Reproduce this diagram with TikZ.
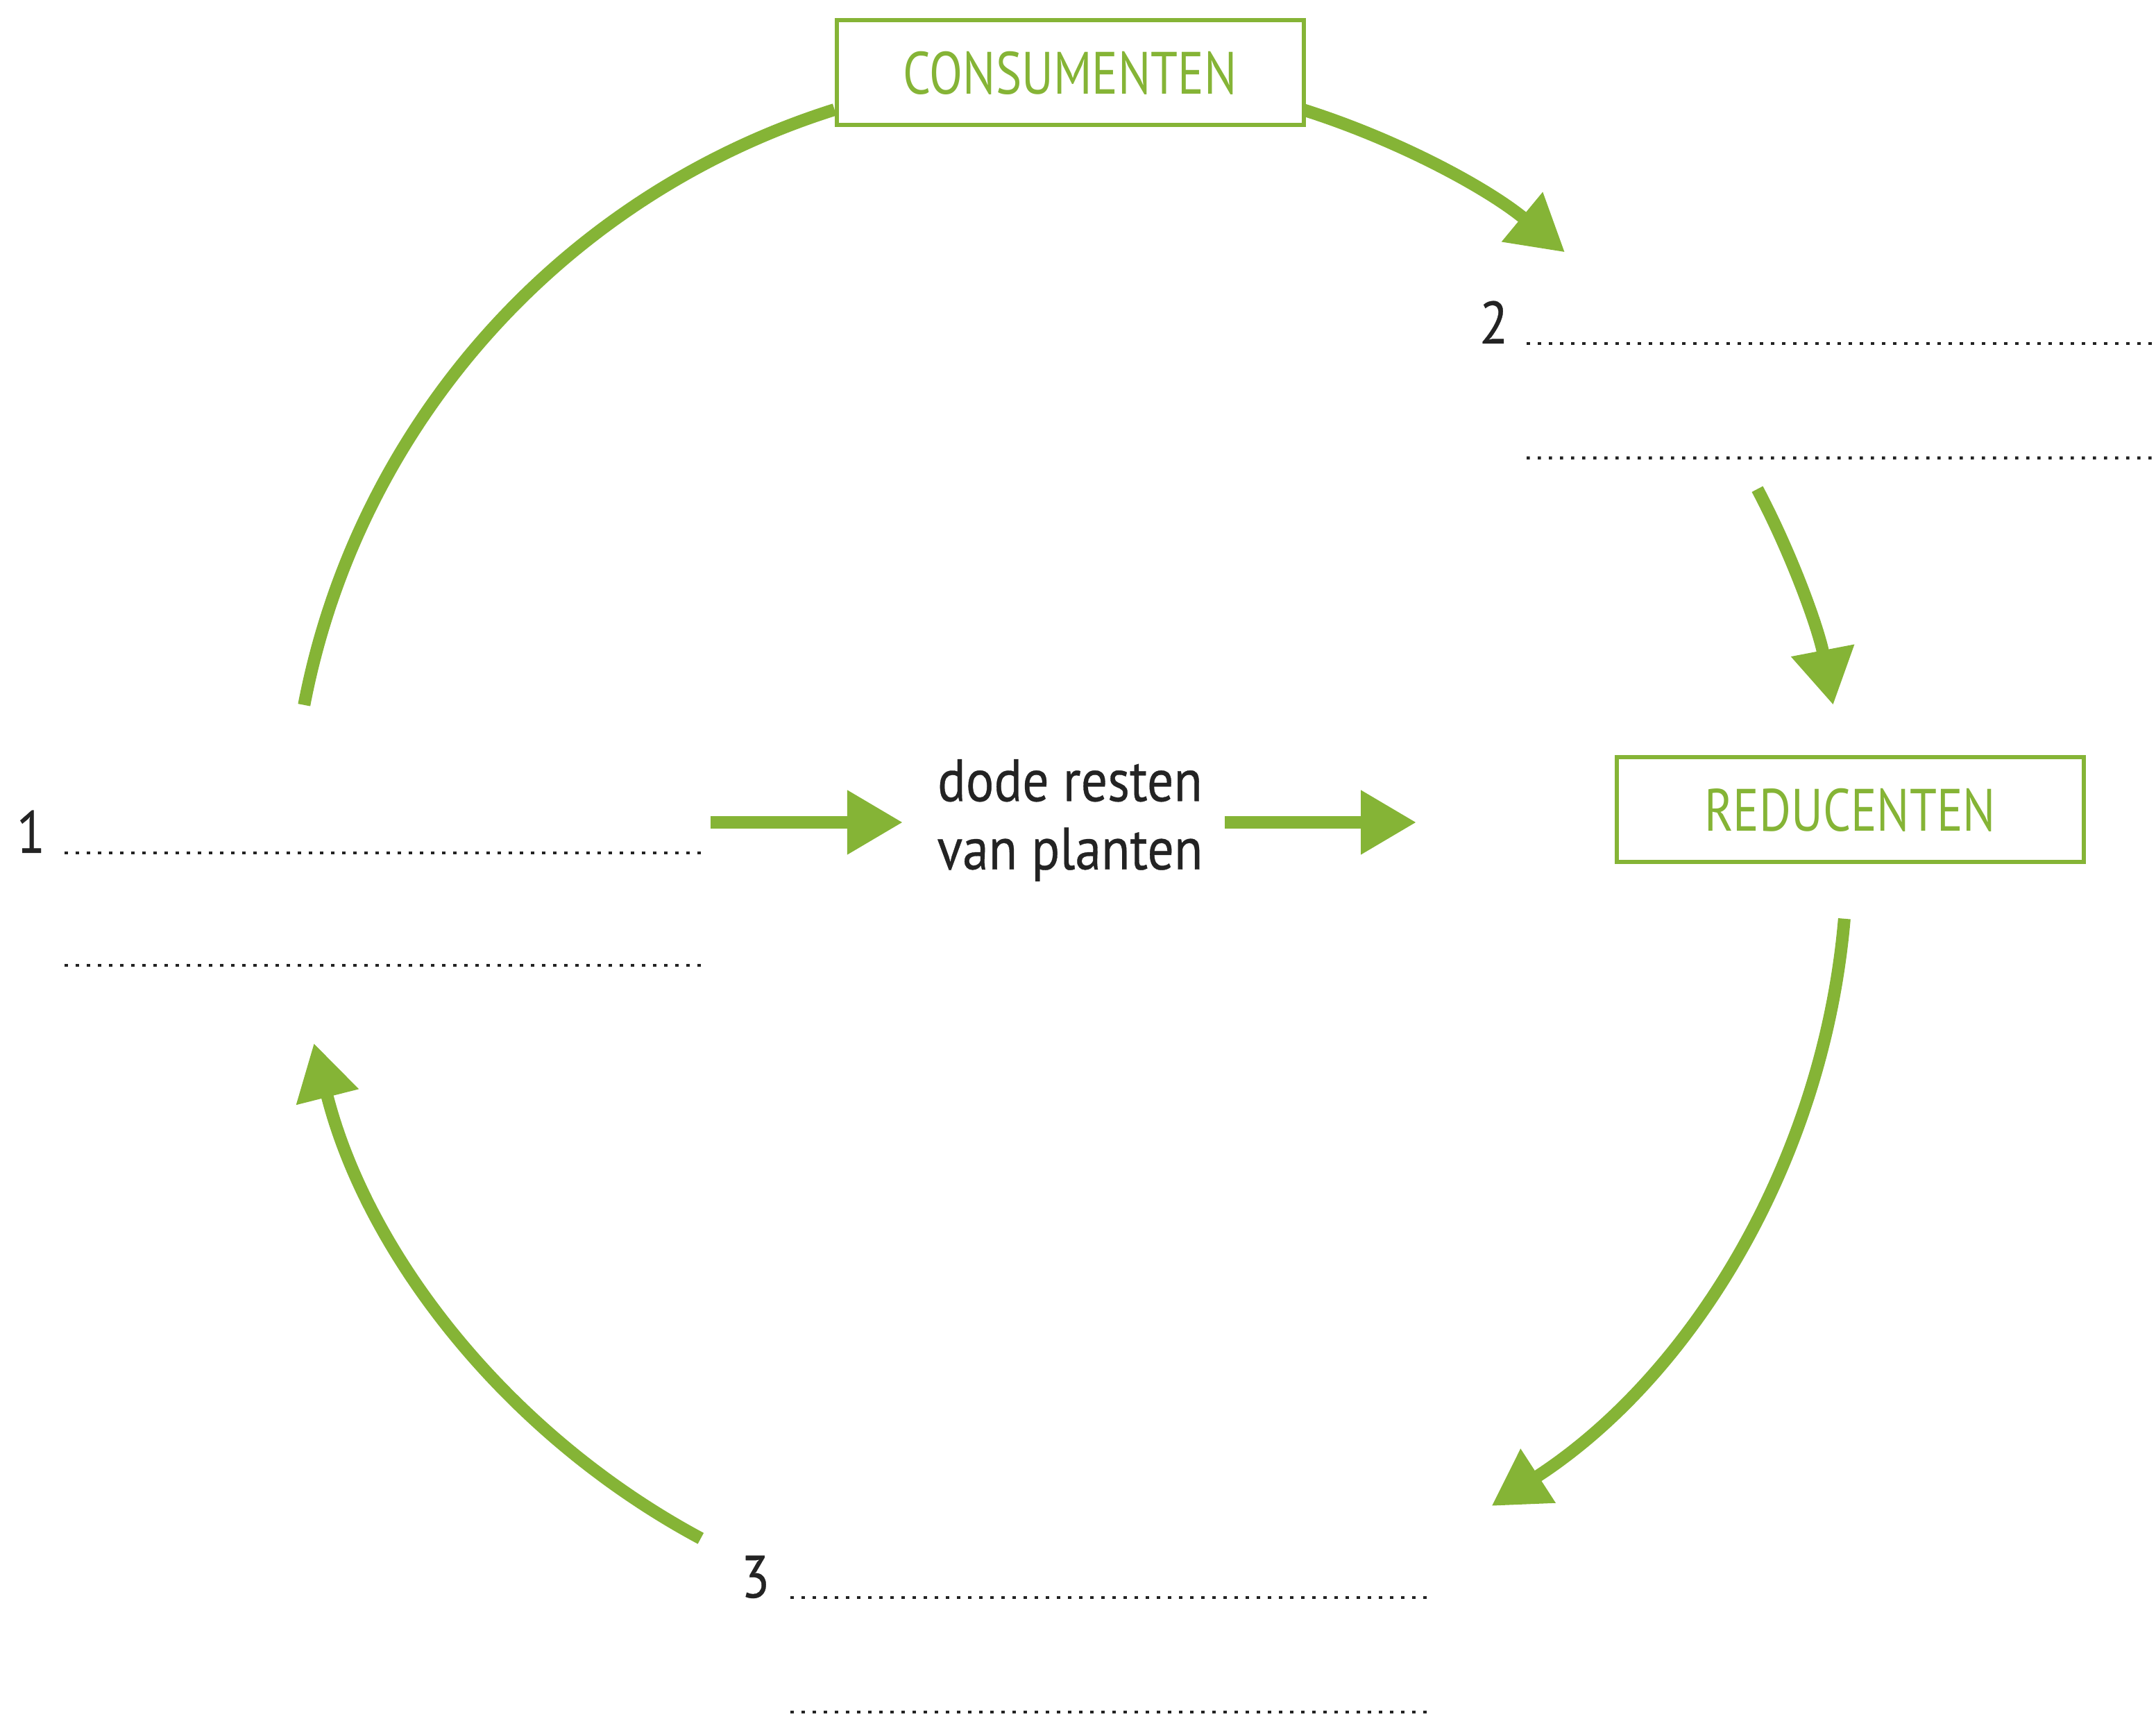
\documentclass[tikz,border=0pt]{standalone}
\usepackage{fontspec}
\setmainfont{PT Sans}[FakeStretch=0.88,FakeBold=0.4]
\newfontfamily\boxfont{PT Sans}[FakeStretch=0.815]
\usetikzlibrary{arrows.meta,calc}
\definecolor{leafgreen}{RGB}{133,180,54}
\definecolor{inkgray}{RGB}{35,35,35}

\begin{document}
\begin{tikzpicture}[
  flow/.style={line width=0.18cm,leafgreen,-{Triangle[length=0.8cm,width=0.88cm]}},
  flowline/.style={line width=0.18cm,leafgreen},
  groupbox/.style={draw=leafgreen,line width=0.06cm,fill=white,text=leafgreen,minimum width=6.73cm,minimum height=1.51cm,inner sep=0pt,font=\boxfont\fontsize{24.5}{29}\selectfont},
  numlabel/.style={anchor=base east,inner sep=0pt,text=inkgray,font=\fontsize{24.5}{29}\selectfont},
  answerline/.style={inkgray,line width=0.045cm,dash pattern=on 0.045cm off 0.115cm}
]
\useasboundingbox (0,0) rectangle (31.07,24.76);
\coordinate (hub) at (15.40,12.48);
\coordinate (one-up) at ($(hub)+(169.1:11.22)$);
\coordinate (cons-out) at ($(hub)+(72.4:11.22)$);
\coordinate (two-out) at ($(hub)+(27.8:11.22)$);
\coordinate (red-out) at ($(hub)+(-4.9:11.22)$);
\coordinate (three-out) at ($(hub)+(241.8:11.22)$);
% Cycle
\draw[flowline] (one-up) arc[start angle=169.1,end angle=107.5,radius=11.22];
\draw[flow] (cons-out) arc[start angle=72.4,end angle=50.4,radius=11.22];
\draw[flow] (two-out) arc[start angle=27.8,end angle=10.9,radius=11.22];
\draw[flow] (red-out) arc[start angle=-4.9,end angle=-57.1,radius=11.22];
\draw[flow] (three-out) arc[start angle=241.8,end angle=194.2,radius=11.22];
% Groups
\node[groupbox] (cons) at (15.42,23.71) {CONSUMENTEN};
\node[groupbox] (red) at (26.66,13.09) {REDUCENTEN};
% Answer spaces
\node[numlabel] (one) at (0.66,12.47) {1};
\draw[answerline] ([xshift=0.27cm]one.base east) -- ++(9.22,0);
\draw[answerline] ([xshift=0.27cm,yshift=-1.62cm]one.base east) -- ++(9.22,0);
\node[numlabel] (two) at (21.74,19.81) {2};
\draw[answerline] ([xshift=0.26cm]two.base east) -- (31.07,19.81);
\draw[answerline] ([xshift=0.26cm,yshift=-1.65cm]two.base east) -- (31.07,18.16);
\node[numlabel] (three) at (11.10,1.74) {3};
\draw[answerline] ([xshift=0.29cm]three.base east) -- ++(9.22,0);
\draw[answerline] ([xshift=0.29cm,yshift=-1.65cm]three.base east) -- ++(9.22,0);
% Dead plant matter
\node[align=center,inner sep=0pt,text=inkgray,font=\fontsize{24.5}{28}\selectfont] (remains) at (15.42,12.94) {dode resten\\van planten};
\coordinate (one-in) at (10.24,12.91);
\coordinate (red-in) at (20.41,12.91);
\draw[flow] (one-in) -- ([xshift=-0.49cm]remains.west |- one-in);
\draw[flow] ([xshift=0.31cm]remains.east |- red-in) -- (red-in);
\end{tikzpicture}
\end{document}
